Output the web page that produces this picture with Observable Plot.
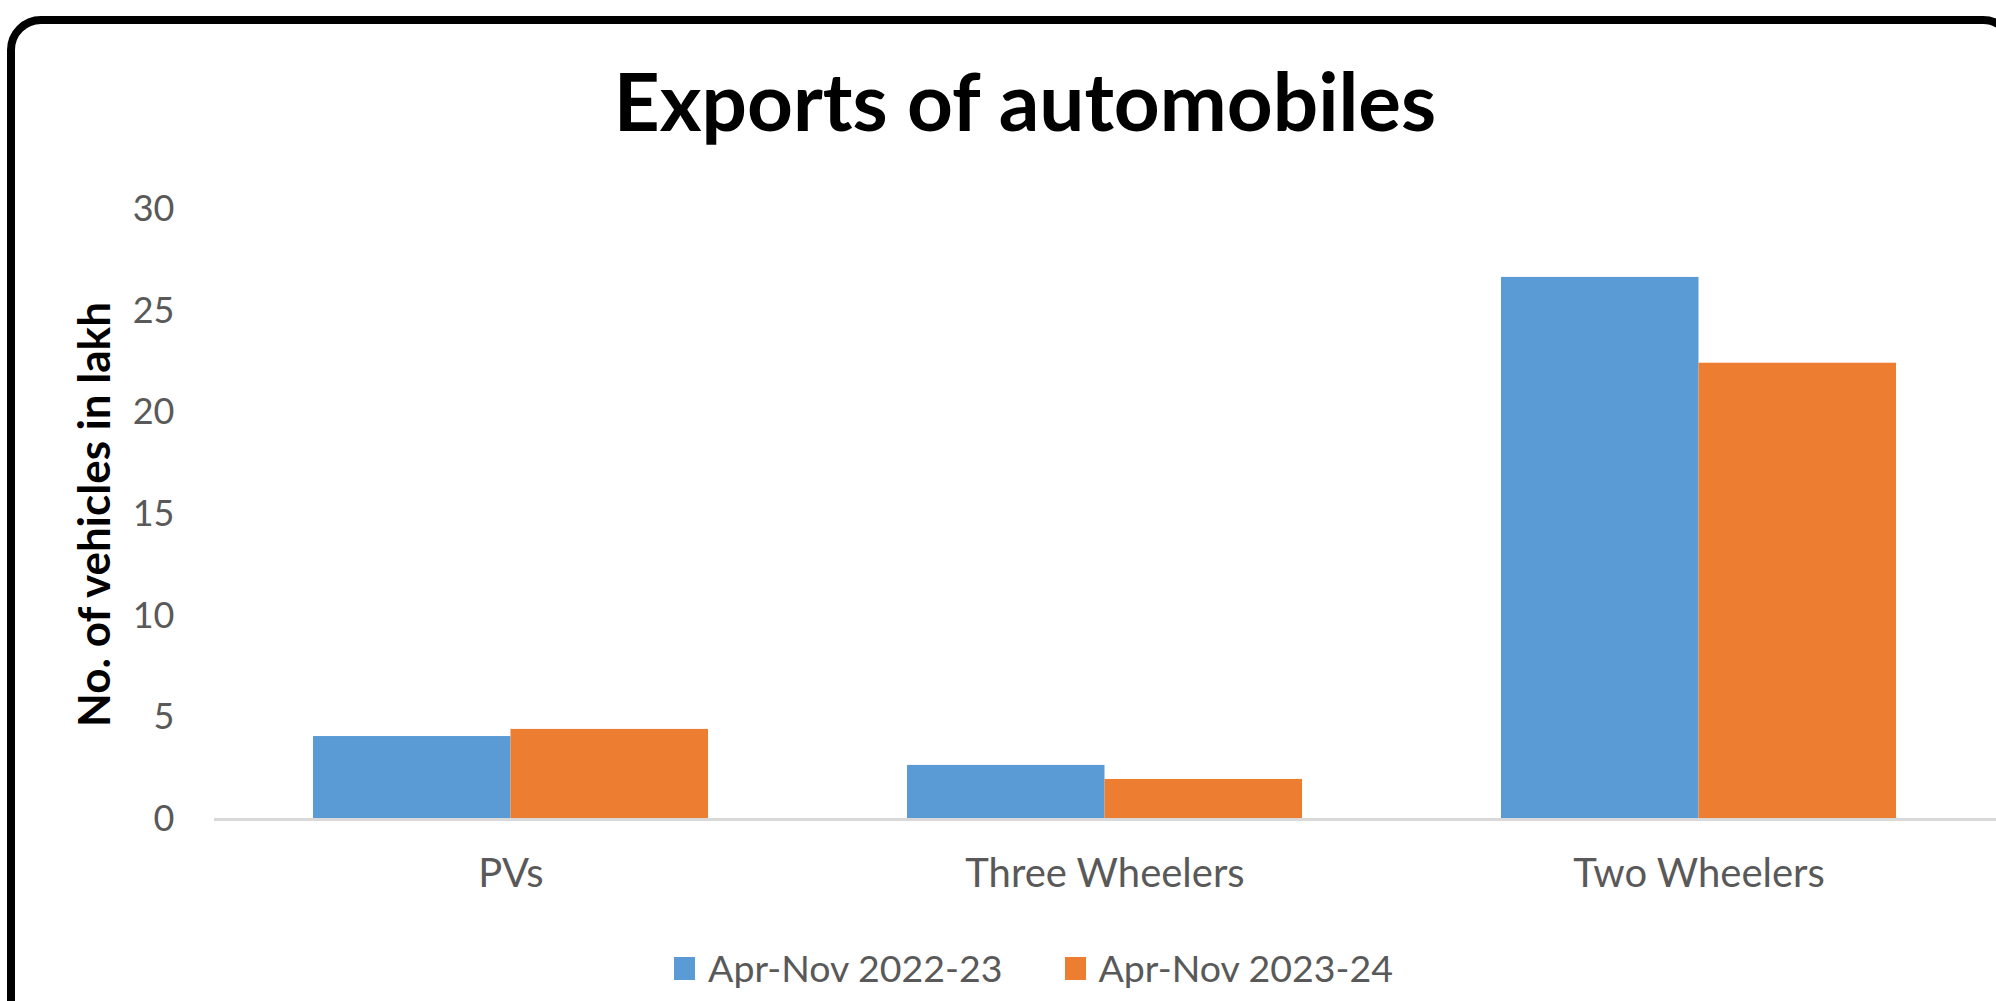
<!DOCTYPE html>
<html>
<head>
<meta charset="utf-8">
<script src="https://cdn.jsdelivr.net/npm/d3@7"></script>
<script src="https://cdn.jsdelivr.net/npm/@observablehq/plot@0.6"></script>
<style>
html, body { margin: 0; padding: 0; background: #fff; }
body { width: 1996px; height: 1001px; overflow: hidden; position: relative; font-family: Lato, "Open Sans", sans-serif; }
#frame { position: absolute; left: 7px; top: 16px; width: 2010px; height: 1100px; border: 8px solid #000; border-radius: 34px; box-sizing: border-box; pointer-events: none; }
#title { box-sizing: border-box; width: 1996px; padding-top: 62px; padding-left: 54px; height: 139px; line-height: 76px; font-size: 80px; font-weight: 700; text-align: center; color: #000; white-space: nowrap; }
#legend { box-sizing: border-box; width: 1996px; padding-top: 21px; padding-left: 71px; display: flex; justify-content: center; align-items: center; font-size: 37.5px; line-height: 36px; color: #595959; }
.item { display: flex; align-items: center; }
.item + .item { margin-left: 62px; }
.sw { width: 21px; height: 23px; margin-right: 13px; }
svg g[aria-label="y-axis label"] text { font-weight: 700; font-size: 44px; fill: #000; }
svg g[aria-label="x-axis tick label"] text { font-size: 40px; }
</style>
</head>
<body>
<div id="frame"></div>
<div id="title">Exports of automobiles</div>
<div id="chart"></div>
<div id="legend"></div>
<script>
const categories = ["PVs", "Three Wheelers", "Two Wheelers"];
const series = ["Apr-Nov 2022-23", "Apr-Nov 2023-24"];
const values2022 = [4.08, 2.66, 26.66];
const values2023 = [4.43, 1.97, 22.44];
const yTicks = [0, 5, 10, 15, 20, 25, 30];
const colors = ["#5b9bd5", "#ed7d31"];

const rows = [];
categories.forEach((c, i) => {
  rows.push({category: c, series: series[0], value: values2022[i]});
  rows.push({category: c, series: series[1], value: values2023[i]});
});

const width = 1996, height = 790;
const marginLeft = 214, marginRight = 0, marginTop = 70, marginBottom = 110;
const paddingInner = 0.335;
const step = (width - marginLeft - marginRight) / categories.length;
const halfBand = step * (1 - paddingInner) / 2;

const chart = Plot.plot({
  width, height, marginLeft, marginRight, marginTop, marginBottom,
  style: {fontFamily: "Lato, 'Open Sans', sans-serif", fontSize: "36px", color: "#595959", background: "transparent", overflow: "visible"},
  x: {domain: categories, paddingInner, paddingOuter: paddingInner / 2, label: null},
  y: {domain: [0, 30], ticks: yTicks, label: null},
  color: {domain: series, range: colors},
  marks: [
    Plot.barY(rows.filter(d => d.series === series[0]), {x: "category", y: "value", fill: "series", insetRight: halfBand}),
    Plot.barY(rows.filter(d => d.series === series[1]), {x: "category", y: "value", fill: "series", insetLeft: halfBand}),
    Plot.ruleY([0], {stroke: "#d9d9d9", strokeWidth: 3}),
    Plot.axisY({ticks: yTicks, tickSize: 0, tickPadding: 40, fontSize: 36, label: "No. of vehicles in lakh", labelAnchor: "center", labelArrow: "none", labelOffset: 136}),
    Plot.axisX({tickSize: 0, tickPadding: 39, fontSize: 40, label: null})
  ]
});
document.getElementById("chart").appendChild(chart);

const legend = document.getElementById("legend");
series.forEach((s, i) => {
  const item = document.createElement("div");
  item.className = "item";
  const sw = document.createElement("div");
  sw.className = "sw";
  sw.style.background = colors[i];
  const t = document.createElement("span");
  t.textContent = s;
  item.appendChild(sw);
  item.appendChild(t);
  legend.appendChild(item);
});
</script>
</body>
</html>
